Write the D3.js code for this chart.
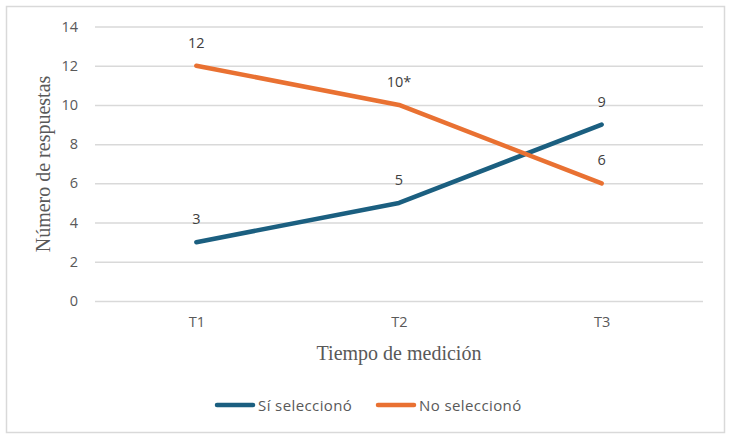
<!DOCTYPE html>
<html><head><meta charset="utf-8">
<script src="https://cdn.jsdelivr.net/npm/d3@7"></script>
<style>body{margin:0;background:#fff}svg{display:block}</style>
</head><body><svg id="c" width="729" height="439"></svg>
<script>
const categories = ["T1","T2","T3"];
const siValues = [3,5,9];
const noValues = [12,10,6];
const siLabels = ["3","5","9"];
const noLabels = ["12","10*","6"];
const yTicks = [0,2,4,6,8,10,12,14];
const seriesNames = ["Sí seleccionó","No seleccionó"];
const colors = ["#1b5f80","#e97132"];

const sans = "'Open Sans',sans-serif";
const svg = d3.select("#c");
svg.append("rect").attr("x",6.5).attr("y",6.5).attr("width",718).attr("height",426)
  .attr("fill","#fff").attr("stroke","#d9d9d9").attr("stroke-width",1.5);

const x = d3.scalePoint().domain(categories).range([95,703]).padding(0.5);
const y = d3.scaleLinear().domain([0,14]).range([301,26.5]);

const g = svg.append("g");
const yAxis = g.append("g").attr("transform","translate(95,0)")
  .call(d3.axisLeft(y).tickValues(yTicks).tickSize(-608).tickPadding(17));
yAxis.select(".domain").remove();
yAxis.selectAll(".tick line").attr("stroke","#d9d9d9").attr("stroke-width",1.5);
yAxis.selectAll(".tick text").attr("fill","#595959").style("font-family",sans).style("font-size","14.5px");

const xAxis = g.append("g").attr("transform","translate(0,301)")
  .call(d3.axisBottom(x).tickSize(0).tickPadding(16));
xAxis.select(".domain").remove();
xAxis.selectAll(".tick text").attr("fill","#595959").style("font-family",sans).style("font-size","14.5px");

const line = d3.line().x((d,i)=>x(categories[i])).y(d=>y(d));
[siValues,noValues].forEach((vals,k)=>{
  g.append("path").datum(vals).attr("d",line).attr("fill","none")
    .attr("stroke",colors[k]).attr("stroke-width",4.5).attr("stroke-linecap","round").attr("stroke-linejoin","round");
});
const labs = [siLabels,noLabels];
[siValues,noValues].forEach((vals,k)=>{
  g.selectAll(null).data(vals).enter().append("text")
    .attr("x",(d,i)=>x(categories[i])).attr("y",d=>y(d)-18)
    .attr("text-anchor","middle").attr("fill","#404040")
    .style("font-family",sans).style("font-size","14.5px")
    .text((d,i)=>labs[k][i]);
});

svg.append("text").attr("transform","translate(50,164) rotate(-90)").attr("text-anchor","middle")
  .attr("fill","#595959").style("font-family","'Liberation Serif',serif").style("font-size","20px")
  .text("Número de respuestas");
svg.append("text").attr("x",399).attr("y",360).attr("text-anchor","middle")
  .attr("fill","#595959").style("font-family","'Liberation Serif',serif").style("font-size","20px")
  .text("Tiempo de medición");

const legX = [215,376];
seriesNames.forEach((n,k)=>{
  svg.append("line").attr("x1",legX[k]+2).attr("x2",legX[k]+38).attr("y1",405).attr("y2",405)
    .attr("stroke",colors[k]).attr("stroke-width",4.5).attr("stroke-linecap","round");
  svg.append("text").attr("x",legX[k]+43).attr("y",410.5).attr("fill","#595959")
    .style("font-family",sans).style("font-size","15px").style("letter-spacing","0.4px").text(n);
});
</script></body></html>
